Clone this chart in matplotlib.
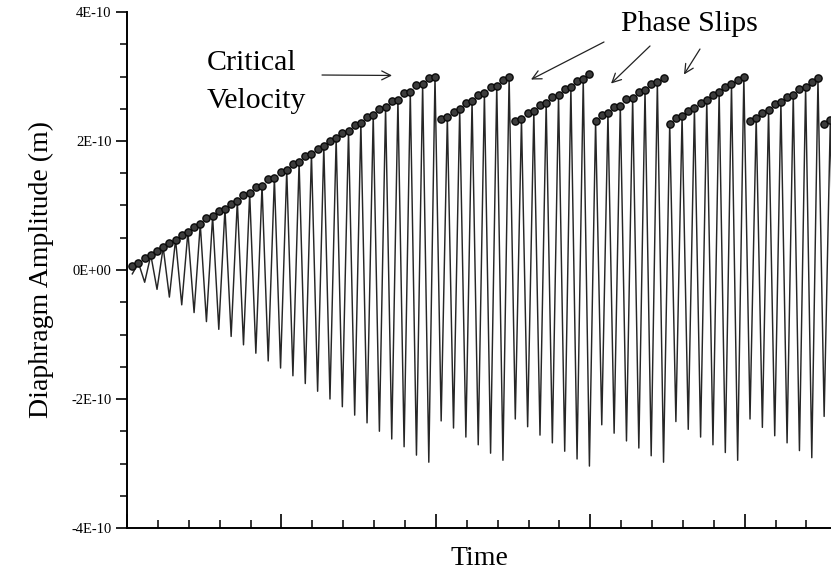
import numpy as np
import matplotlib
matplotlib.use("Agg")
import matplotlib.pyplot as plt
from matplotlib.ticker import MultipleLocator, FixedLocator, FixedFormatter

# ---- data: signed extremum of each half-cycle, in units of 1E-10 m ----
segment1 = [-0.06, 0.11, -0.19, 0.23, -0.30, 0.35, -0.42, 0.47, -0.54, 0.59,
            -0.66, 0.71, -0.80, 0.83, -0.92, 0.95, -1.03, 1.07, -1.16, 1.19,
            -1.29, 1.31, -1.41, 1.43, -1.52, 1.55, -1.64, 1.67, -1.76, 1.80,
            -1.88, 1.92, -2.00, 2.04, -2.12, 2.16, -2.25, 2.28, -2.37, 2.40,
            -2.50, 2.52, -2.62, 2.64, -2.74, 2.76, -2.87, 2.88, -2.98, 3.00]
segment2 = [-2.34, 2.37, -2.45, 2.49, -2.59, 2.62, -2.71, 2.74, -2.84, 2.86, -2.95, 3.00]
segment3 = [-2.31, 2.34, -2.43, 2.46, -2.56, 2.59, -2.68, 2.71, -2.81, 2.83, -2.93, 2.96, -3.04]
segment4 = [2.31, -2.40, 2.43, -2.53, 2.55, -2.65, 2.67, -2.76, 2.79, -2.88, 2.91, -2.98]
segment5 = [2.27, -2.35, 2.39, -2.47, 2.51, -2.59, 2.63, -2.71, 2.76, -2.83, 2.88, -2.95, 3.00]
segment6 = [-2.31, 2.36, -2.44, 2.48, -2.57, 2.60, -2.68, 2.72, -2.80, 2.84, -2.91, 2.97]
segment7 = [-2.27, 2.33, -2.39]
UNIT = 1e-10

ytick_values = [-4e-10, -2e-10, 0.0, 2e-10, 4e-10]
ytick_labels = ["-4E-10", "-2E-10", "0E+00", "2E-10", "4E-10"]
xlabel_text = "Time"
ylabel_text = "Diaphragm Amplitude (m)"
note_critical = ["Critical", "Velocity"]
note_slips = "Phase Slips"

# ---- build series ----
extrema = np.array(segment1 + segment2 + segment3 + segment4 + segment5
                   + segment6 + segment7) * UNIT
T0 = 0.86
t = np.arange(len(extrema)) + T0

plt.rcParams["font.family"] = ["Liberation Serif", "DejaVu Serif"]
fig = plt.figure(figsize=(8.31, 5.77), dpi=100)
ax = fig.add_axes([127 / 831, 49 / 577, 704 / 831, 516 / 577])

LINE = "#262626"
ax.plot(t, extrema, color=LINE, lw=1.05, zorder=2)
ax.plot(t, np.abs(extrema), linestyle="none", marker="o", ms=5.2,
        mfc="#3c3c3c", mec="#0a0a0a", mew=1.0, zorder=3)

ax.set_xlim(0, 113.97)
ax.set_ylim(-4e-10, 4e-10)

ax.spines["right"].set_visible(False)
ax.spines["top"].set_visible(False)
ax.spines["left"].set_linewidth(1.4)
ax.spines["bottom"].set_linewidth(1.4)

ax.xaxis.set_major_locator(MultipleLocator(25))
ax.xaxis.set_minor_locator(MultipleLocator(5))
ax.xaxis.set_major_formatter(FixedFormatter([]))
ax.tick_params(axis="x", which="major", direction="in", length=10, width=1.2,
               labelbottom=False)
ax.tick_params(axis="x", which="minor", direction="in", length=6, width=1.1)

ax.yaxis.set_major_locator(FixedLocator(ytick_values))
ax.yaxis.set_major_formatter(FixedFormatter(ytick_labels))
ax.yaxis.set_minor_locator(MultipleLocator(0.5e-10))
ax.tick_params(axis="y", which="major", direction="out", length=8, width=1.2,
               labelsize=10.5, pad=3)
ax.tick_params(axis="y", which="minor", direction="out", length=5, width=1.1)

ax.set_ylabel(ylabel_text, fontsize=20)
ax.yaxis.set_label_coords(-0.104, 0.5)
ax.set_xlabel(xlabel_text, fontsize=20)
ax.xaxis.set_label_coords(0.5, -0.035)
ax.xaxis.label.set_verticalalignment("top")

# ---- annotations ----
ax.text(12.95, 3.10e-10, note_critical[0], fontsize=21.5, va="baseline", ha="left")
ax.text(12.95, 2.51e-10, note_critical[1], fontsize=21.5, va="baseline", ha="left")
arrow = dict(arrowstyle="->", lw=0.9, color="#222222", mutation_scale=16,
             shrinkA=0, shrinkB=0)
ax.annotate("", xy=(42.9, 3.016e-10), xytext=(31.57, 3.023e-10), arrowprops=arrow)

ax.text(79.97, 3.705e-10, note_slips, fontsize=21.5, va="baseline", ha="left")
ax.annotate("", xy=(65.4, 2.953e-10), xytext=(77.22, 3.535e-10), arrowprops=arrow)
ax.annotate("", xy=(78.36, 2.891e-10), xytext=(84.67, 3.473e-10), arrowprops=arrow)
ax.annotate("", xy=(90.17, 3.031e-10), xytext=(92.76, 3.426e-10), arrowprops=arrow)

fig.savefig("out.png", dpi=100)
